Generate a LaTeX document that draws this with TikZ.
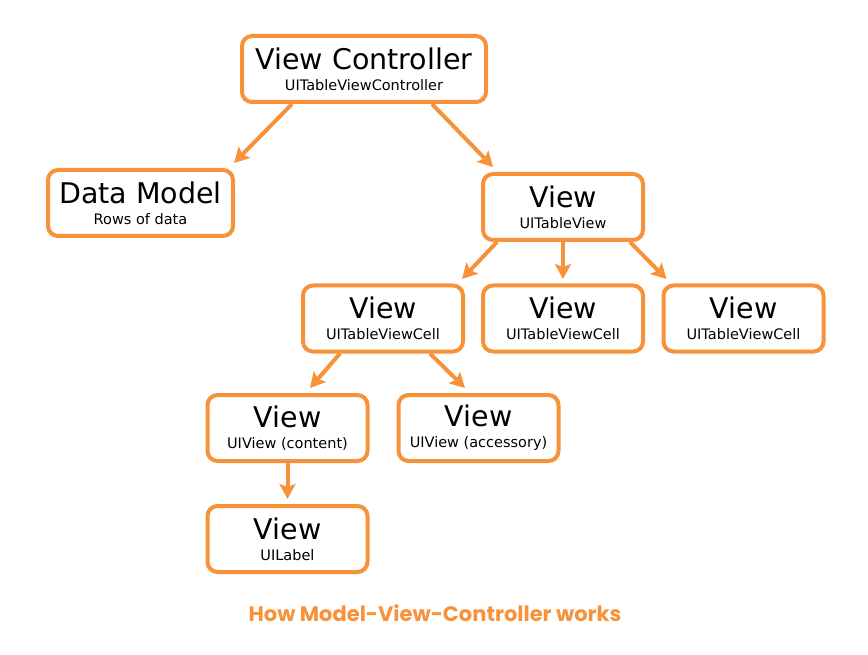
\documentclass[tikz,border=0pt]{standalone}
\usepackage{fontspec}
\setmainfont{DejaVu Sans}
\newfontfamily\capfont{Poppins}
\usetikzlibrary{calc,arrows.meta}
\definecolor{mvcorange}{RGB}{248,146,58}
\newcommand{\mvctext}[2]{{\fontsize{28.5}{28.5}\selectfont #1}\\#2}

\begin{document}
\begin{tikzpicture}[x=1pt,y=-1pt]
% Styles for the boxes and the arrows
\tikzset{
mvc box/.style={rectangle,rounded corners=10pt,draw=mvcorange,line width=4pt,fill=white,
  minimum width=160pt,minimum height=66pt,inner sep=0pt,align=center,
  font=\fontsize{14.5}{21}\selectfont},
mvc arrow/.style={draw=mvcorange,line width=4pt,-{Stealth[length=15pt,width=16pt,inset=3pt]}}
}
\useasboundingbox (0,0) rectangle (868,655);
% Boxes
\node[mvc box,minimum width=244pt] (vc) at (364,69) {\mvctext{View Controller}{UITableViewController}};
\node[mvc box,minimum width=185pt] (dm) at (140.5,203) {\mvctext{Data Model}{Rows of data}};
\node[mvc box] (tv) at (563,207) {\mvctext{View}{UITableView}};
\node[mvc box] (cellA) at (383,318.5) {\mvctext{View}{UITableViewCell}};
\node[mvc box] (cellB) at (563,318.5) {\mvctext{View}{UITableViewCell}};
\node[mvc box] (cellC) at (743.5,318.5) {\mvctext{View}{UITableViewCell}};
\node[mvc box] (content) at (287.5,428) {\mvctext{View}{UIView (content)}};
\node[mvc box] (accessory) at (478.5,428) {\mvctext{View}{UIView (accessory)}};
\node[mvc box] (label) at (287.5,539) {\mvctext{View}{UILabel}};
% Arrows
\draw[mvc arrow] ($(vc.south)+(-72,0)$) -- ($(dm.north east)+(-1,-5)$);
\draw[mvc arrow] ($(vc.south)+(68,0)$) -- ($(tv.north west)+(12,-5)$);
\draw[mvc arrow] ($(tv.south)+(-66,0)$) -- ($(cellA.north east)+(-3,-4.5)$);
\draw[mvc arrow,shorten >=4.5pt] (tv.south) -- (cellB.north);
\draw[mvc arrow] ($(tv.south)+(67,0)$) -- ($(cellC.north west)+(5,-4.5)$);
\draw[mvc arrow] ($(cellA.south)+(-43,0)$) -- ($(content.north)+(22.5,-5)$);
\draw[mvc arrow] ($(cellA.south)+(47,0)$) -- ($(accessory.north)+(-13.5,-5)$);
\draw[mvc arrow,shorten >=5pt] (content.south) -- (label.north);
% Caption
\node[text=mvcorange,font=\capfont\bfseries\fontsize{21}{21}\selectfont] (caption) at (435,613) {How Model-View-Controller works};
\end{tikzpicture}
\end{document}
